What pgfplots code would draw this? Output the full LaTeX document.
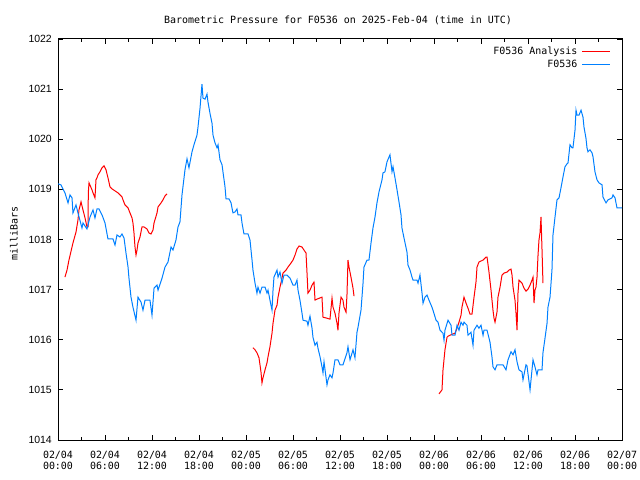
\documentclass[border=0pt]{standalone}
\usepackage{fontspec}
\usepackage{pgfplots}
\pgfplotsset{compat=1.18}
\setmainfont{DejaVu Sans Mono}
\newfontfamily\ticksans{Liberation Sans}
\definecolor{anared}{RGB}{255,0,0}
\definecolor{obsblue}{RGB}{0,128,255}
\begin{document}
\begin{tikzpicture}
\useasboundingbox (0,0) rectangle (640bp,480bp);
\begin{axis}[
  at={(58bp,40bp)}, anchor=south west,
  scale only axis, width=564bp, height=401bp,
  xmin=0, xmax=72, ymin=1014, ymax=1022,
  xtick={0,6,...,72}, minor xtick={3,9,...,69},
  xticklabels={02/04\\00:00,02/04\\06:00,02/04\\12:00,02/04\\18:00,02/05\\00:00,02/05\\06:00,02/05\\12:00,02/05\\18:00,02/06\\00:00,02/06\\06:00,02/06\\12:00,02/06\\18:00,02/07\\00:00},
  ytick={1014,1015,...,1022},
  yticklabels={1014,1015,1016,1017,1018,1019,1020,1021,1022},
  tick align=inside, tick pos=both,
  major tick length=5bp, minor tick length=3bp,
  every tick/.style={black, line width=0.8bp},
  axis line style={black, line width=1bp},
  xticklabel style={align=center, anchor=north, yshift=-10.5bp, inner sep=0pt, font=\fontsize{10}{11.5}\selectfont},
  yticklabel style={anchor=east, xshift=-6bp, inner sep=0pt, font=\ticksans\fontsize{10.5}{12}\selectfont},
  ylabel={milliBars},
  ylabel style={at={(rel axis cs:0,0.5)}, anchor=center, xshift=6bp, yshift=44bp, font=\fontsize{10}{11}\selectfont},
  every axis title shift=0pt,
  title={Barometric Pressure for F0536 on 2025-Feb-04 (time in UTC)},
  title style={at={(rel axis cs:0.5,1)}, anchor=base, xshift=-2bp, yshift=15.5bp, font=\fontsize{10}{11}\selectfont},
  legend plot pos=right, legend cell align=right,
  legend image code/.code={\draw[#1] (0bp,0bp) -- (28bp,0bp);},
  legend style={at={([xshift=-11bp,yshift=-7.5bp]rel axis cs:1,1)}, anchor=north east, draw=none, fill=none, inner sep=0pt, row sep=3bp, font=\fontsize{10}{12}\selectfont, nodes={inner xsep=4.5bp, inner ysep=0.5bp}},
  unbounded coords=jump,
  clip=true,
]
\addlegendimage{anared, line width=1bp}
\addlegendentry{F0536 Analysis}
\addlegendimage{obsblue, line width=1bp}
\addlegendentry{F0536}
\addplot[anared, line width=1bp, forget plot] coordinates {
(0.89,1017.25) (1.15,1017.39) (1.40,1017.59) (1.79,1017.85) (1.91,1017.93) (2.30,1018.15) (2.55,1018.39) (2.68,1018.59) (2.94,1018.75) (3.19,1018.59) (3.45,1018.43) (3.70,1018.25) (3.83,1018.25) (3.87,1018.93) (3.96,1019.13) (4.34,1018.99) (4.47,1018.93) (4.72,1018.83) (4.85,1019.19) (4.98,1019.23) (5.11,1019.29) (5.36,1019.35) (5.62,1019.43) (5.87,1019.47) (6.13,1019.39) (6.38,1019.23) (6.64,1019.05) (6.89,1019.01) (7.28,1018.97) (7.66,1018.93) (7.91,1018.89) (8.17,1018.85) (8.30,1018.79) (8.55,1018.69) (8.81,1018.65) (8.94,1018.63) (9.19,1018.53) (9.45,1018.43) (9.57,1018.33) (9.70,1018.13) (9.83,1017.85) (9.96,1017.69) (10.09,1017.79) (10.21,1017.93) (10.47,1018.05) (10.72,1018.25) (10.98,1018.25) (11.36,1018.21) (11.62,1018.13) (11.87,1018.11) (12.13,1018.19) (12.26,1018.33) (12.64,1018.53) (12.77,1018.65) (13.15,1018.73) (13.40,1018.79) (13.66,1018.87) (13.91,1018.91)
(19.00,nan)
(24.89,1015.84) (25.15,1015.80) (25.40,1015.74) (25.66,1015.64) (25.91,1015.36) (26.04,1015.14) (26.17,1015.24) (26.43,1015.40) (26.68,1015.54) (26.81,1015.66) (27.06,1015.86) (27.32,1016.13) (27.45,1016.33) (27.70,1016.59) (27.96,1016.69) (28.09,1016.85) (28.34,1017.05) (28.60,1017.23) (28.72,1017.33) (29.11,1017.39) (29.36,1017.45) (29.74,1017.53) (30.00,1017.59) (30.26,1017.69) (30.51,1017.81) (30.77,1017.87) (31.15,1017.85) (31.40,1017.79) (31.66,1017.73) (31.79,1017.33) (31.91,1016.93) (32.17,1016.99) (32.43,1017.09) (32.68,1017.15) (32.81,1016.79) (33.06,1016.81) (33.70,1016.85) (33.83,1016.45) (34.34,1016.43) (34.72,1016.41) (34.98,1016.83) (35.11,1016.65) (35.36,1016.53) (35.62,1016.33) (35.74,1016.19) (35.87,1016.53) (36.13,1016.85) (36.38,1016.79) (36.51,1016.65) (36.77,1016.55) (36.89,1016.89) (37.02,1017.59) (37.15,1017.45) (37.40,1017.25) (37.66,1017.03) (37.79,1016.87)
(43.00,nan)
(48.64,1014.92) (49.02,1015.00) (49.15,1015.40) (49.40,1015.80) (49.66,1016.05) (49.79,1016.07) (50.30,1016.11) (50.68,1016.13) (50.94,1016.23) (51.19,1016.35) (51.45,1016.49) (51.57,1016.65) (51.83,1016.85) (52.09,1016.73) (52.34,1016.63) (52.60,1016.51) (52.85,1016.51) (53.11,1016.85) (53.36,1017.15) (53.49,1017.45) (53.74,1017.55) (54.26,1017.59) (54.64,1017.65) (54.77,1017.65) (55.02,1017.35) (55.28,1016.99) (55.53,1016.59) (55.66,1016.43) (55.79,1016.35) (56.04,1016.55) (56.17,1016.85) (56.43,1017.05) (56.68,1017.29) (56.94,1017.33) (57.32,1017.35) (57.57,1017.39) (57.83,1017.41) (57.96,1017.29) (58.09,1017.05) (58.34,1016.79) (58.47,1016.53) (58.60,1016.19) (58.72,1016.93) (58.85,1017.19) (59.23,1017.13) (59.49,1017.03) (59.74,1016.97) (60.00,1017.01) (60.26,1017.09) (60.51,1017.19) (60.64,1017.25) (60.77,1016.73) (60.89,1016.99) (61.02,1017.05) (61.15,1017.25) (61.28,1017.69) (61.40,1017.99) (61.53,1018.13) (61.66,1018.45) (61.79,1017.79) (61.91,1017.13)
};
\addplot[obsblue, line width=1bp, forget plot] coordinates {
(0,1019.11) (0.38,1019.09) (0.89,1018.93) (1.28,1018.73) (1.53,1018.89) (1.79,1018.83) (1.91,1018.53) (2.30,1018.69) (2.55,1018.53) (3.06,1018.23) (3.19,1018.33) (3.70,1018.21) (4.09,1018.45) (4.47,1018.59) (4.72,1018.43) (4.98,1018.61) (5.23,1018.61) (5.62,1018.49) (6.00,1018.33) (6.38,1018.01) (7.02,1018.01) (7.28,1017.89) (7.53,1018.09) (7.91,1018.05) (8.17,1018.11) (8.43,1018.03) (8.68,1017.73) (8.94,1017.45) (9.06,1017.23) (9.32,1016.85) (9.57,1016.65) (9.96,1016.39) (10.21,1016.85) (10.60,1016.75) (10.85,1016.59) (11.11,1016.79) (11.74,1016.79) (12.00,1016.49) (12.26,1017.03) (12.64,1017.09) (12.77,1016.99) (13.28,1017.23) (13.66,1017.45) (14.04,1017.55) (14.43,1017.85) (14.68,1017.79) (15.06,1017.99) (15.32,1018.25) (15.57,1018.35) (15.83,1018.89) (16.21,1019.39) (16.47,1019.61) (16.72,1019.43) (17.11,1019.75) (17.36,1019.89) (17.74,1020.08) (17.87,1020.24) (18.13,1020.62) (18.38,1021.10) (18.51,1020.82) (18.77,1020.80) (19.02,1020.90) (19.15,1020.74) (19.40,1020.52) (19.66,1020.32) (19.79,1020.08) (20.04,1019.93) (20.30,1019.83) (20.43,1019.89) (20.68,1019.59) (20.94,1019.49) (21.06,1019.35) (21.32,1019.05) (21.45,1018.81) (21.83,1018.81) (22.09,1018.73) (22.21,1018.63) (22.34,1018.53) (22.60,1018.55) (22.85,1018.61) (22.98,1018.49) (23.36,1018.49) (23.49,1018.33) (23.74,1018.11) (24.26,1018.11) (24.51,1017.99) (24.77,1017.59) (24.89,1017.39) (25.15,1017.13) (25.40,1016.93) (25.53,1017.05) (25.79,1016.93) (26.04,1017.05) (26.43,1017.05) (26.68,1016.93) (26.81,1016.99) (27.06,1016.79) (27.32,1016.59) (27.45,1016.99) (27.57,1017.25) (27.96,1017.39) (28.09,1017.25) (28.34,1017.35) (28.60,1017.13) (28.85,1017.29) (29.23,1017.29) (29.62,1017.23) (30.00,1017.09) (30.26,1017.09) (30.51,1017.19) (30.64,1016.99) (30.89,1016.79) (31.15,1016.53) (31.28,1016.39) (31.79,1016.37) (31.91,1016.29) (32.17,1016.47) (32.43,1016.23) (32.55,1016.05) (32.81,1015.89) (33.06,1015.95) (33.19,1015.83) (33.45,1015.66) (33.70,1015.46) (33.83,1015.34) (33.96,1015.56) (34.09,1015.40) (34.34,1015.10) (34.47,1015.20) (34.72,1015.30) (34.98,1015.24) (35.11,1015.34) (35.36,1015.60) (35.74,1015.60) (36.00,1015.50) (36.38,1015.50) (36.89,1015.74) (37.02,1015.86) (37.28,1015.60) (37.66,1015.80) (37.91,1015.64) (38.17,1016.15) (38.30,1016.25) (38.68,1016.59) (38.94,1017.13) (39.06,1017.45) (39.45,1017.59) (39.70,1017.59) (39.96,1017.93) (40.21,1018.23) (40.47,1018.45) (40.72,1018.73) (40.98,1018.95) (41.36,1019.19) (41.49,1019.33) (41.74,1019.35) (42.00,1019.55) (42.38,1019.69) (42.64,1019.35) (42.77,1019.45) (43.02,1019.23) (43.28,1018.99) (43.53,1018.75) (43.79,1018.49) (43.91,1018.23) (44.17,1018.03) (44.55,1017.75) (44.68,1017.49) (44.94,1017.39) (45.19,1017.25) (45.32,1017.19) (45.83,1017.19) (45.96,1017.13) (46.21,1017.29) (46.47,1016.93) (46.60,1016.73) (46.85,1016.85) (47.11,1016.89) (47.36,1016.79) (47.74,1016.65) (47.87,1016.59) (48.26,1016.39) (48.51,1016.35) (48.77,1016.19) (49.15,1016.13) (49.28,1015.99) (49.40,1016.19) (49.79,1016.39) (50.17,1016.29) (50.30,1016.09) (50.68,1016.09) (50.94,1016.29) (51.19,1016.19) (51.45,1016.35) (51.70,1016.29) (51.83,1016.35) (52.21,1016.29) (52.34,1016.09) (52.72,1016.15) (52.98,1015.89) (53.11,1016.19) (53.49,1016.29) (53.74,1016.23) (54.00,1016.29) (54.26,1016.09) (54.38,1016.19) (54.77,1016.19) (55.15,1015.95) (55.40,1015.66) (55.53,1015.46) (55.79,1015.40) (56.04,1015.50) (56.81,1015.50) (57.19,1015.40) (57.45,1015.60) (57.83,1015.76) (58.09,1015.70) (58.34,1015.80) (58.60,1015.56) (58.85,1015.40) (59.23,1015.36) (59.36,1015.20) (59.74,1015.50) (59.87,1015.48) (60.13,1015.16) (60.26,1015.00) (60.51,1015.40) (60.64,1015.60) (60.89,1015.46) (61.15,1015.30) (61.28,1015.40) (61.79,1015.40) (61.91,1015.74) (62.17,1016.03) (62.43,1016.33) (62.55,1016.65) (62.81,1016.85) (63.06,1017.39) (63.19,1018.09) (63.45,1018.45) (63.70,1018.79) (63.96,1018.83) (64.21,1019.03) (64.47,1019.25) (64.72,1019.45) (64.98,1019.51) (65.11,1019.53) (65.36,1019.89) (65.62,1019.83) (65.74,1019.83) (66.00,1020.18) (66.13,1020.58) (66.26,1020.48) (66.51,1020.48) (66.77,1020.58) (67.02,1020.44) (67.15,1020.24) (67.40,1020.02) (67.53,1019.83) (67.66,1019.75) (67.91,1019.79) (68.17,1019.73) (68.30,1019.65) (68.55,1019.35) (68.81,1019.19) (69.06,1019.13) (69.45,1019.09) (69.57,1018.85) (69.96,1018.73) (70.21,1018.79) (70.72,1018.83) (70.85,1018.89) (71.11,1018.83) (71.36,1018.63) (72.00,1018.63)
};
\end{axis}
\end{tikzpicture}
\end{document}
